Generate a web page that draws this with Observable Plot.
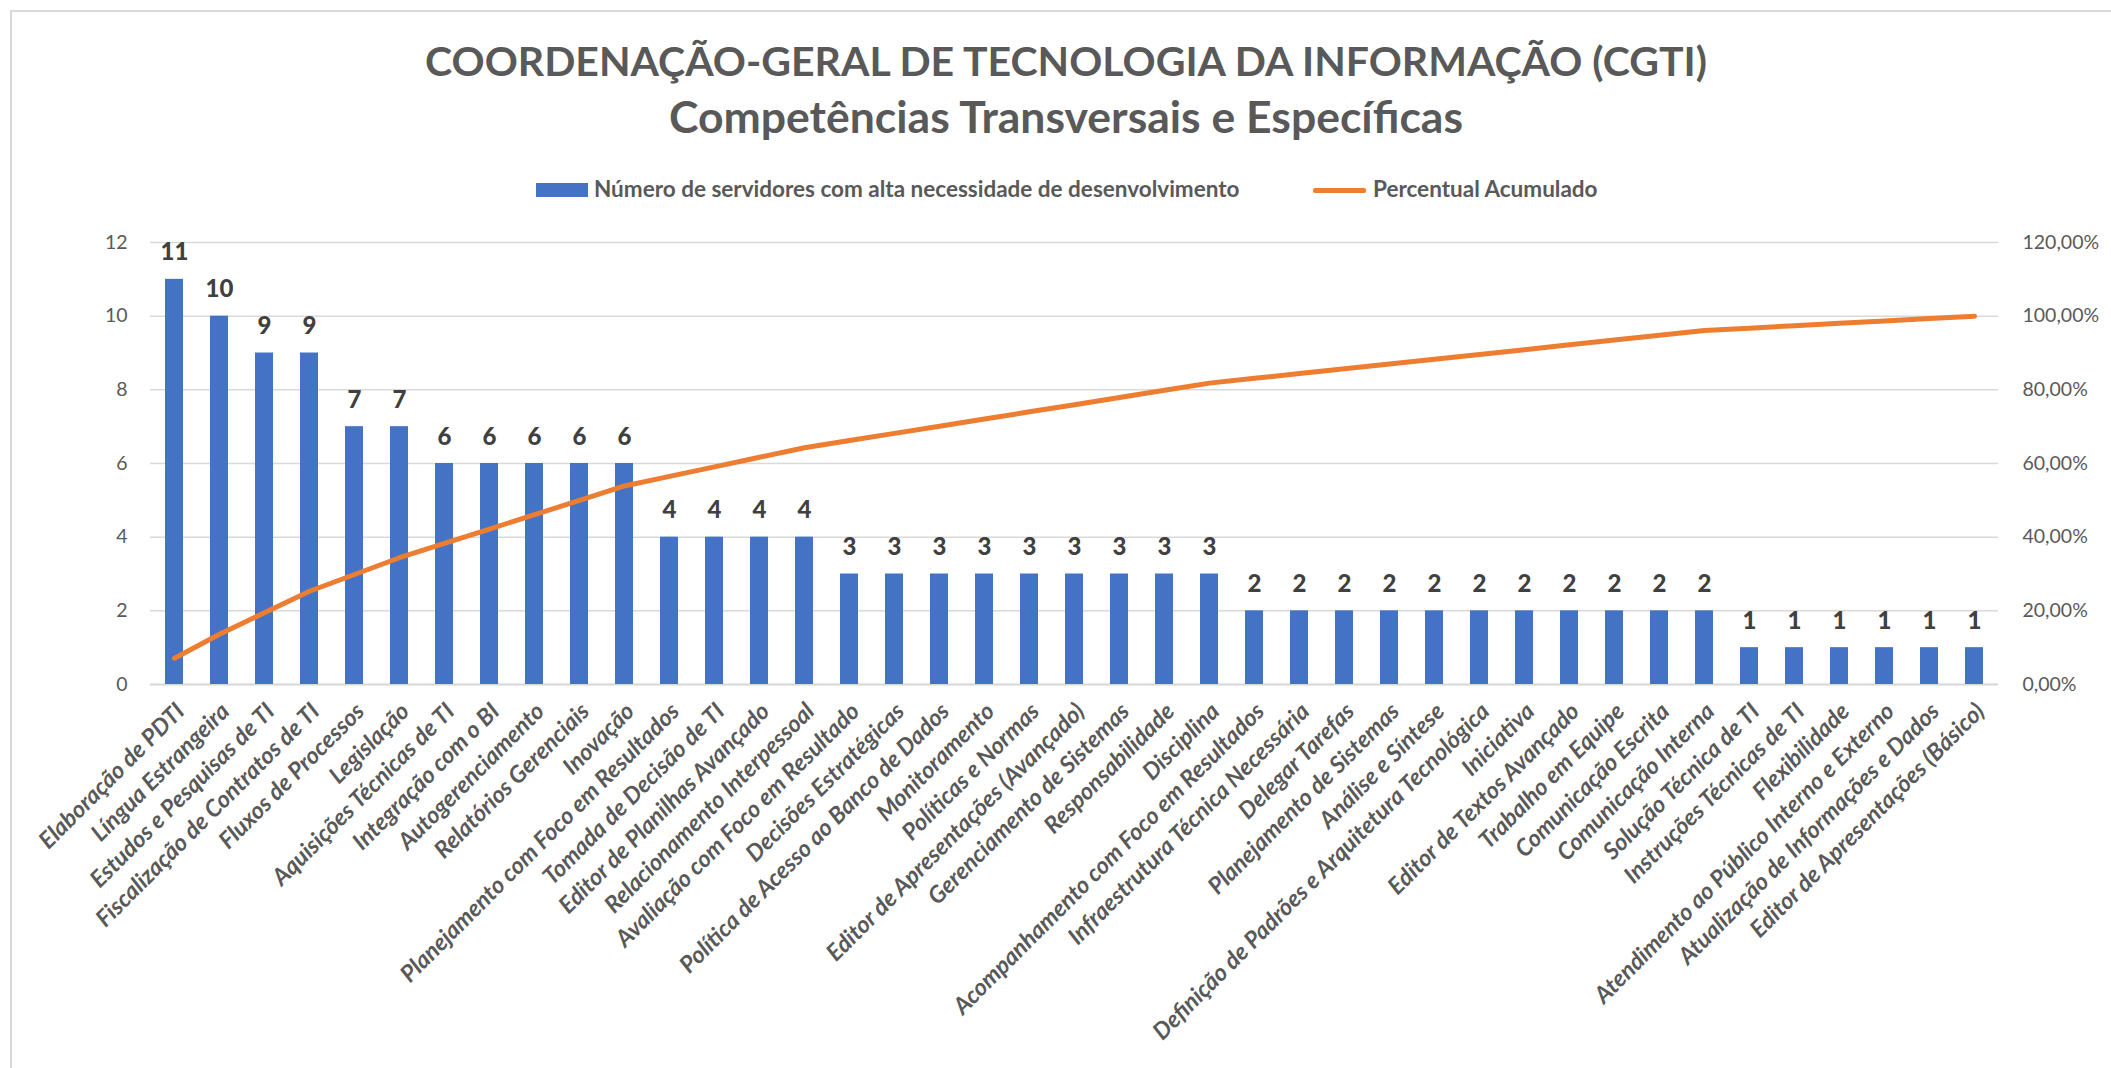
<!DOCTYPE html>
<html>
<head>
<meta charset="utf-8">
<script src="https://cdn.jsdelivr.net/npm/d3@7"></script>
<script src="https://cdn.jsdelivr.net/npm/@observablehq/plot@0.6"></script>
<style>
  html, body { margin: 0; padding: 0; background: #fff; }
  #page { position: relative; width: 2111px; height: 1068px; overflow: hidden; background: #fff;
          font-family: Lato, "Open Sans", sans-serif; }
  #frame { position: absolute; left: 10px; top: 10px; width: 2200px; height: 1200px;
           border-left: 2px solid #d9d9d9; border-top: 2px solid #d9d9d9; }
  .title { position: absolute; left: 1066px; transform: translateX(-50%); white-space: nowrap;
           font-weight: 700; color: #595959; line-height: 1; }
  #t1 { top: 40px; font-size: 41px; }
  #t2 { top: 94px; font-size: 44.5px; }
  .legtext { position: absolute; white-space: nowrap; font-weight: 700; color: #595959; font-size: 22.5px; line-height: 1; top: 178px; }
  #chart { position: absolute; left: 0; top: 200px; }
</style>
</head>
<body>
<div id="page">
  <div id="frame"></div>
  <div class="title" id="t1">COORDENAÇÃO-GERAL DE TECNOLOGIA DA INFORMAÇÃO (CGTI)</div>
  <div class="title" id="t2">Competências Transversais e Específicas</div>
  <div style="position:absolute;left:536px;top:183px;width:52px;height:14px;background:#4472C4"></div>
  <div class="legtext" style="left:594px">Número de servidores com alta necessidade de desenvolvimento</div>
  <div style="position:absolute;left:1313px;top:188px;width:53px;height:5px;border-radius:2px;background:#ED7D31"></div>
  <div class="legtext" style="left:1373px">Percentual Acumulado</div>
  <div id="chart"></div>
</div>
<script>
const categories = [
  "Elaboração de PDTI",
  "Língua Estrangeira",
  "Estudos e Pesquisas de TI",
  "Fiscalização de Contratos de TI",
  "Fluxos de Processos",
  "Legislação",
  "Aquisições Técnicas de TI",
  "Integração com o BI",
  "Autogerenciamento",
  "Relatórios Gerenciais",
  "Inovação",
  "Planejamento com Foco em Resultados",
  "Tomada de Decisão de TI",
  "Editor de Planilhas Avançado",
  "Relacionamento Interpessoal",
  "Avaliação com Foco em Resultado",
  "Decisões Estratégicas",
  "Política de Acesso ao Banco de Dados",
  "Monitoramento",
  "Políticas e Normas",
  "Editor de Apresentações (Avançado)",
  "Gerenciamento de Sistemas",
  "Responsabilidade",
  "Disciplina",
  "Acompanhamento com Foco em Resultados",
  "Infraestrutura Técnica Necessária",
  "Delegar Tarefas",
  "Planejamento de Sistemas",
  "Análise e Síntese",
  "Definição de Padrões e Arquitetura Tecnológica",
  "Iniciativa",
  "Editor de Textos Avançado",
  "Trabalho em Equipe",
  "Comunicação Escrita",
  "Comunicação Interna",
  "Solução Técnica de TI",
  "Instruções Técnicas de TI",
  "Flexibilidade",
  "Atendimento ao Público Interno e Externo",
  "Atualização de Informações e Dados",
  "Editor de Apresentações (Básico)"
];
const counts = [11, 10, 9, 9, 7, 7, 6, 6, 6, 6, 6, 4, 4, 4, 4, 3, 3, 3, 3, 3, 3, 3, 3, 3,
                2, 2, 2, 2, 2, 2, 2, 2, 2, 2, 2, 1, 1, 1, 1, 1, 1];
// Percentual acumulado (%)
const cumulativePct = [7.14, 13.64, 19.48, 25.32, 29.87, 34.42, 38.31, 42.21, 46.10, 50.00,
                       53.90, 56.49, 59.09, 61.69, 64.29, 66.23, 68.18, 70.13, 72.08, 74.03,
                       75.97, 77.92, 79.87, 81.82, 83.12, 84.42, 85.71, 87.01, 88.31, 89.61,
                       90.91, 92.21, 93.51, 94.81, 96.10, 96.75, 97.40, 98.05, 98.70, 99.35, 100.00];
const leftTicks = [0, 2, 4, 6, 8, 10, 12];
const rightTickLabels = ["0,00%", "20,00%", "40,00%", "60,00%", "80,00%", "100,00%", "120,00%"];

const data = categories.map((c, i) => ({cat: c, n: counts[i], pct: cumulativePct[i]}));

const chart = Plot.plot({
  width: 2111,
  height: 860,
  marginTop: 42,
  marginLeft: 150,
  marginRight: 113,
  marginBottom: 376,
  style: {fontFamily: "Lato, 'Open Sans', sans-serif", background: "transparent", overflow: "visible"},
  x: {type: "band", domain: categories, paddingInner: 0.6, paddingOuter: 0.3, axis: null},
  y: {domain: [0, 12], axis: null},
  marks: [
    Plot.gridY(leftTicks, {stroke: "#d9d9d9", strokeOpacity: 1, strokeWidth: 1.5}),
    Plot.ruleY([0], {stroke: "#d9d9d9", strokeWidth: 2}),
    Plot.barY(data, {x: "cat", y: "n", fill: "#4472C4"}),
    Plot.line(data, {x: "cat", y: d => d.pct / 10, stroke: "#ED7D31", strokeWidth: 5,
                     strokeLinecap: "round", strokeLinejoin: "round"}),
    Plot.text(data, {x: "cat", y: "n", text: d => String(d.n), dy: -19, lineAnchor: "bottom",
                     fontSize: 24, fontWeight: 900, fill: "#404040"}),
    Plot.axisY({anchor: "left", ticks: leftTicks, tickSize: 0, tickPadding: 23, fontSize: 19.5,
                color: "#595959", label: null}),
    Plot.axisY({anchor: "right", ticks: leftTicks, tickSize: 0, tickPadding: 24, fontSize: 19.5,
                color: "#595959", label: null,
                tickFormat: d => rightTickLabels[leftTicks.indexOf(d)]}),
    Plot.text(categories, {x: d => d, frameAnchor: "bottom", rotate: -45, textAnchor: "end",
                           lineAnchor: "middle", dx: 6, dy: 23, fontSize: 23.5, fontWeight: "bold",
                           fontStyle: "italic", fill: "#595959"})
  ]
});
document.getElementById("chart").appendChild(chart);
</script>
</body>
</html>
